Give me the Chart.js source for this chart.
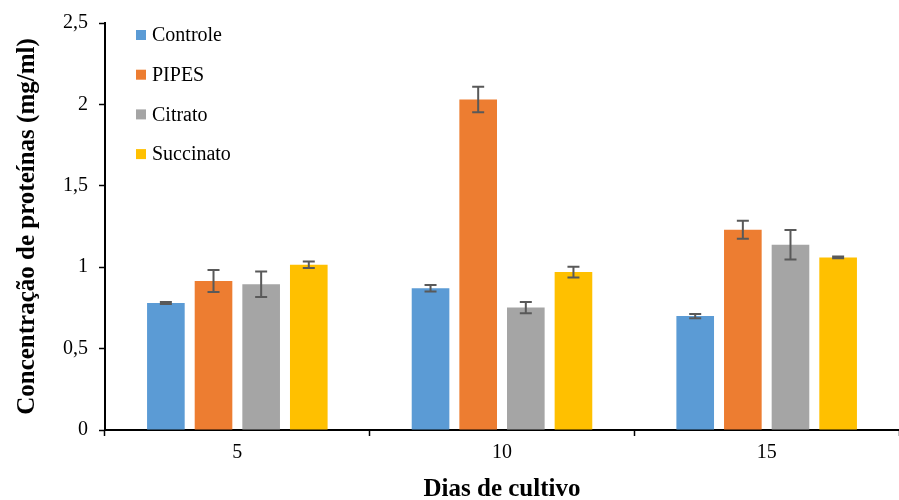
<!DOCTYPE html>
<html>
<head>
<meta charset="utf-8">
<script src="https://cdn.jsdelivr.net/npm/chart.js@4.4.0/dist/chart.umd.min.js"></script>
<style>
  html, body { margin: 0; padding: 0; background: #fff; }
  #wrap { width: 899px; height: 500px; }
</style>
</head>
<body>
<div id="wrap"><canvas id="myChart" width="899" height="500"></canvas></div>
<script>
const dias = ['5', '10', '15'];
const seriesNames = ['Controle', 'PIPES', 'Citrato', 'Succinato'];
const controle = [0.78, 0.87, 0.70];
const pipes = [0.915, 2.03, 1.23];
const citrato = [0.895, 0.752, 1.138];
const succinato = [1.015, 0.97, 1.06];
const controleErr = [0.006, 0.02, 0.013];
const pipesErr = [0.068, 0.078, 0.056];
const citratoErr = [0.078, 0.035, 0.09];
const succinatoErr = [0.02, 0.033, 0.005];
const yTicks = [0, 0.5, 1, 1.5, 2, 2.5];

const colors = ['#5B9BD5', '#ED7D31', '#A5A5A5', '#FFC000'];
const serif = "'Liberation Serif', 'Times New Roman', serif";

// error bars drawn through the y scale
const errorBars = {
  id: 'errorBars',
  afterDatasetsDraw(chart) {
    const ctx = chart.ctx;
    const y = chart.scales.y;
    ctx.save();
    ctx.strokeStyle = '#595959';
    ctx.lineWidth = 2;
    chart.data.datasets.forEach((ds, i) => {
      const meta = chart.getDatasetMeta(i);
      meta.data.forEach((bar, j) => {
        const v = ds.data[j];
        const e = ds.errors[j];
        const top = y.getPixelForValue(v + e);
        const bot = y.getPixelForValue(v - e);
        ctx.beginPath();
        ctx.moveTo(bar.x, top);
        ctx.lineTo(bar.x, bot);
        ctx.moveTo(bar.x - 6, top);
        ctx.lineTo(bar.x + 6, top);
        ctx.moveTo(bar.x - 6, bot);
        ctx.lineTo(bar.x + 6, bot);
        ctx.stroke();
      });
    });
    ctx.restore();
  }
};

// legend inside the plot, top left, one entry per row
const insideLegend = {
  id: 'insideLegend',
  afterDraw(chart) {
    const ctx = chart.ctx;
    ctx.save();
    ctx.font = '20px ' + serif;
    ctx.textBaseline = 'middle';
    chart.data.datasets.forEach((ds, i) => {
      const cy = 35 + i * 39.7;
      ctx.fillStyle = ds.backgroundColor;
      ctx.fillRect(136, cy - 5, 10, 10);
      ctx.fillStyle = '#000';
      ctx.fillText(ds.label, 152, cy + 1);
    });
    ctx.restore();
  }
};

const allValues = [controle, pipes, citrato, succinato];
const allErrors = [controleErr, pipesErr, citratoErr, succinatoErr];

const ctx = document.getElementById('myChart').getContext('2d');
const myChart = new Chart(ctx, {
  type: 'bar',
  data: {
    labels: dias,
    datasets: seriesNames.map((name, i) => ({
      label: name,
      data: allValues[i],
      errors: allErrors[i],
      backgroundColor: colors[i],
      categoryPercentage: 0.72,
      barPercentage: 0.79,
    })),
  },
  options: {
    responsive: false,
    animation: false,
    layout: { padding: { top: 14, right: 0, left: 13, bottom: 0 } },
    scales: {
      x: {
        grid: {
          offset: true,
          drawOnChartArea: false,
          color: '#000',
          tickLength: 6,
          tickWidth: 1.5,
        },
        border: { color: '#000', width: 2 },
        ticks: { color: '#000', font: { family: serif, size: 20 }, padding: 5 },
        title: {
          display: true,
          text: 'Dias de cultivo',
          color: '#000',
          font: { family: serif, size: 25, weight: 'bold', lineHeight: 0.8 },
          padding: { top: 10, bottom: 0 },
        },
      },
      y: {
        min: 0,
        max: 2.5,
        afterBuildTicks(scale) {
          scale.ticks = yTicks.map((v) => ({ value: v }));
        },
        grid: {
          drawOnChartArea: false,
          color: '#000',
          tickLength: 6,
          tickWidth: 1.5,
        },
        border: { color: '#000', width: 2 },
        ticks: {
          color: '#000',
          font: { family: serif, size: 20 },
          padding: 11,
          callback: (v) => String(v).replace('.', ','),
        },
        title: {
          display: true,
          text: 'Concentração de proteínas (mg/ml)',
          color: '#000',
          font: { family: serif, size: 25, weight: 'bold' },
          padding: { top: 0, bottom: 9 },
        },
      },
    },
    plugins: {
      legend: { display: false },
      tooltip: { enabled: false },
    },
  },
  plugins: [errorBars, insideLegend],
});
</script>
</body>
</html>
